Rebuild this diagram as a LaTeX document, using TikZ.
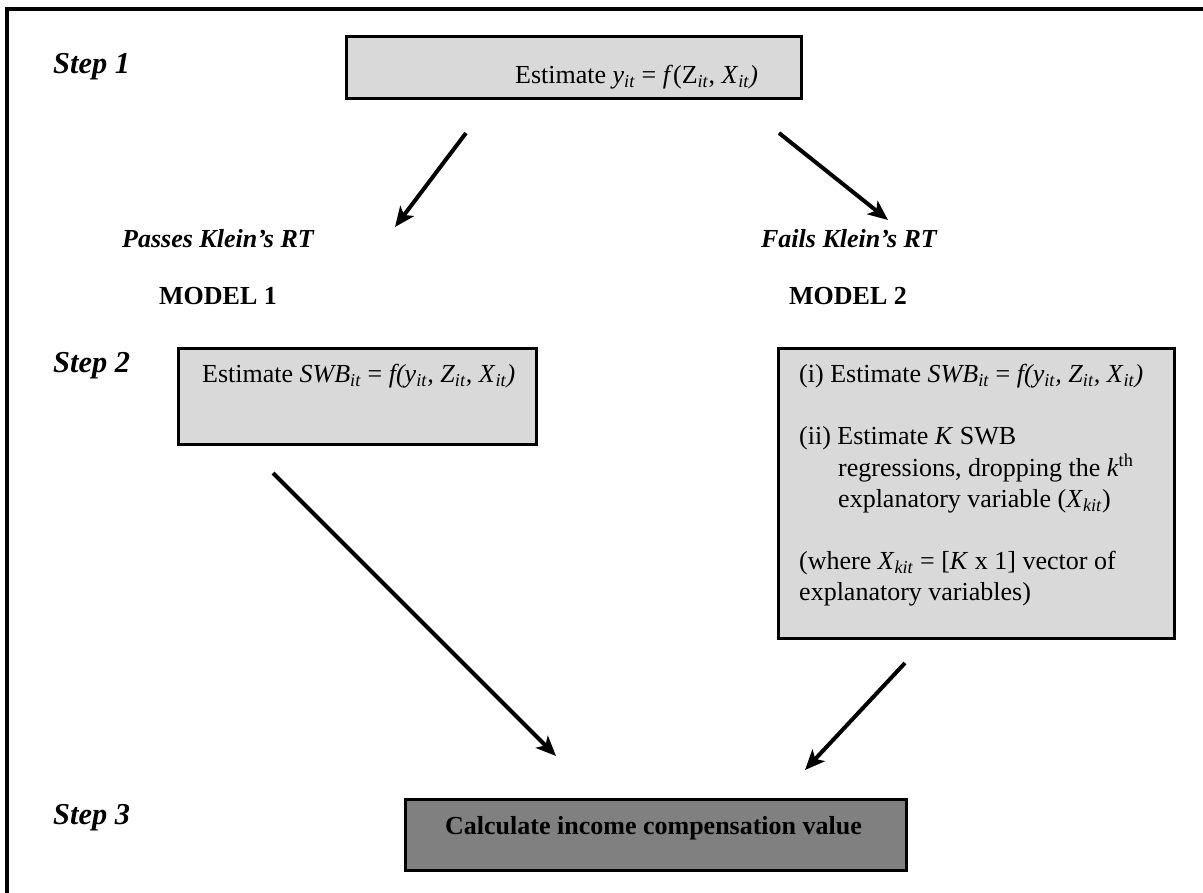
\documentclass[tikz,border=0pt]{standalone}
\usepackage{fontspec}
\setmainfont{Liberation Serif}
\usetikzlibrary{arrows.meta}
\definecolor{boxgray}{HTML}{D9D9D9}
\definecolor{darkbox}{HTML}{808080}
\newcommand{\sbit}[1]{\textsubscript{\textit{#1}}}
\begin{document}
\begin{tikzpicture}[x=1pt,y=-1pt,
  graybox/.style={draw=black, line width=3pt, fill=boxgray, anchor=north west, inner sep=0pt},
  darkgraybox/.style={draw=black, line width=3pt, fill=darkbox, anchor=north west, inner sep=0pt},
  body/.style={font=\fontsize{26}{31}\selectfont, anchor=base west, inner sep=0pt},
  bodyc/.style={font=\fontsize{26}{31}\selectfont\bfseries, anchor=base, inner sep=0pt},
  steplabel/.style={font=\fontsize{30.4}{36}\selectfont\bfseries\itshape, anchor=base west, inner sep=0pt},
  arr/.style={line width=4pt, -{Stealth[length=20pt,width=17pt,inset=5pt]}}]
\useasboundingbox (0,0) rectangle (1203,893);
\clip (0,0) rectangle (1203,893);
\draw[line width=4pt] (7,1000) -- (7,9.5) -- (1300,9.5);

% step labels
\node[steplabel] (s1) at (53,74) {Step 1};
\node[steplabel] (s2) at (53,373) {Step 2};
\node[steplabel] (s3) at (53,824) {Step 3};

% top box
\node[graybox, minimum width=455pt, minimum height=62pt] (top) at (345,35) {};
\node[body] (toptext) at (515,84) {Estimate \textit{y}\sbit{it} = \textit{f}(Z\sbit{it}, \textit{X}\sbit{it}\textit{)}};

% labels
\node[bodyc, font=\fontsize{26}{31}\selectfont\bfseries\itshape] (pass) at (218,248) {Passes Klein’s RT};
\node[bodyc] (m1) at (218,305) {MODEL 1};
\node[bodyc, font=\fontsize{26}{31}\selectfont\bfseries\itshape] (fail) at (849,248) {Fails Klein’s RT};
\node[bodyc] (m2) at (848,305) {MODEL 2};

% step 2 boxes
\node[graybox, minimum width=358pt, minimum height=96pt] (left) at (177,347) {};
\node[body] (lefttext) at (202,383) {Estimate \textit{SWB}\sbit{it} = \textit{f(y}\sbit{it}\textit{, Z}\sbit{it}\textit{, X}\sbit{it}\textit{)}};

\node[graybox, minimum width=396pt, minimum height=290pt] (right) at (777,347) {};
\node[body] (r1) at (799,383) {(i) Estimate \textit{SWB}\sbit{it} = \textit{f(y}\sbit{it}\textit{, Z}\sbit{it}\textit{, X}\sbit{it}\textit{)}};
\node[body] (r2) at (799,445) {(ii) Estimate \textit{K} SWB};
\node[body] (r3) at (838,476) {regressions, dropping the \textit{k}\textsuperscript{th}};
\node[body] (r4) at (838,507) {explanatory variable (\textit{X}\sbit{kit})};
\node[body] (r5) at (799,569) {(where \textit{X}\sbit{kit} = [\textit{K} x 1] vector of};
\node[body] (r6) at (799,600) {explanatory variables)};

% step 3 box
\node[darkgraybox, minimum width=501pt, minimum height=71pt] (bottom) at (404,798) {};
\node[body, font=\fontsize{26}{31}\selectfont\bfseries] (bottomtext) at (445,834) {Calculate income compensation value};

% arrows
\coordinate (a1s) at (466,133); \coordinate (a1e) at (395,227);
\coordinate (a2s) at (779,133); \coordinate (a2e) at (888,220);
\coordinate (a3s) at (273,473); \coordinate (a3e) at (556,756);
\coordinate (a4s) at (905,663); \coordinate (a4e) at (805,770);
\draw[arr] (a1s) -- (a1e);
\draw[arr] (a2s) -- (a2e);
\draw[arr] (a3s) -- (a3e);
\draw[arr] (a4s) -- (a4e);
\end{tikzpicture}
\end{document}
